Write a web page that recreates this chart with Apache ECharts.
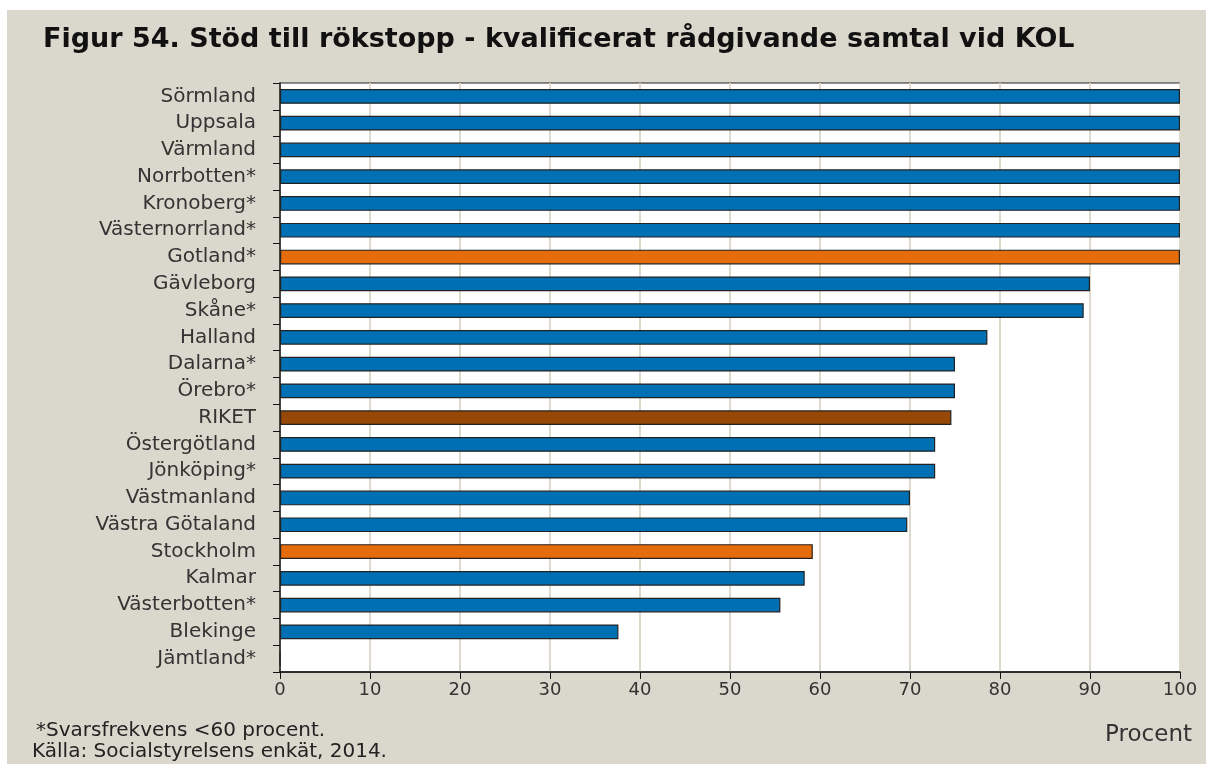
<!DOCTYPE html>
<html lang="sv">
<head>
  <meta charset="utf-8">
  <title>Figur 54</title>
  <script src="https://cdn.jsdelivr.net/npm/echarts@6/dist/echarts.min.js"></script>
  <style>
    body { margin: 0; background: #fff; }
    #bg { position: absolute; left: 7px; top: 10px; width: 1199px; height: 754px; background: #DAD8CC; }
    #container { position: absolute; left: 0; top: 0; width: 1206px; height: 764px; }
  </style>
</head>
<body>
<div id="bg"></div>
<div id="container"></div>
<script>
  // regioner uppifrån och ned
  var regions = ['Sörmland', 'Uppsala', 'Värmland', 'Norrbotten*', 'Kronoberg*', 'Västernorrland*',
    'Gotland*', 'Gävleborg', 'Skåne*', 'Halland', 'Dalarna*', 'Örebro*', 'RIKET', 'Östergötland',
    'Jönköping*', 'Västmanland', 'Västra Götaland', 'Stockholm', 'Kalmar', 'Västerbotten*',
    'Blekinge', 'Jämtland*'];
  var percent = [100, 100, 100, 100, 100, 100, 100, 90, 89.3, 78.6, 75, 75, 74.6, 72.8,
    72.8, 70, 69.7, 59.2, 58.3, 55.6, 37.6, 0];
  var xTicks = [0, 10, 20, 30, 40, 50, 60, 70, 80, 90, 100];
  var orangeRegions = ['Gotland*', 'Stockholm'];
  var nationalRow = 'RIKET';

  var blue = '#0070B4', orange = '#E46C0A', brown = '#974806';
  var font = 'DejaVu Sans';

  var barData = percent.map(function (v, i) {
    var c = blue;
    if (orangeRegions.indexOf(regions[i]) >= 0) c = orange;
    if (regions[i] === nationalRow) c = brown;
    return { value: v, itemStyle: { color: c } };
  });

  var myChart = echarts.init(document.getElementById('container'));
  var option = {
    backgroundColor: 'transparent',
    animation: false,
    title: {
      text: 'Figur 54. Stöd till rökstopp - kvalificerat rådgivande samtal vid KOL',
      left: 38, top: 21,
      textStyle: { fontFamily: font, fontWeight: 'bold', fontSize: 27, color: '#111' }
    },
    grid: {
      left: 280, right: 26, top: 83, bottom: 92,
      show: true, backgroundColor: '#fff', borderColor: '#222', borderWidth: 1
    },
    xAxis: {
      type: 'value', min: 0, max: 100, interval: 10,
      axisLine: { show: true, lineStyle: { color: '#111', width: 1.5 } },
      axisTick: { show: true, length: 7, lineStyle: { color: '#111' } },
      axisLabel: {
        fontFamily: font, fontSize: 18, color: '#333', margin: 9,
        formatter: function (v) { return xTicks.indexOf(v) >= 0 ? String(v) : ''; }
      },
      splitLine: { show: true, lineStyle: { color: '#DDD9CC', width: 2 } }
    },
    yAxis: {
      type: 'category', data: regions, inverse: true,
      axisLine: { show: true, lineStyle: { color: '#111', width: 1.5 } },
      axisTick: { show: true, interval: 0, length: 7, inside: false, lineStyle: { color: '#111' } },
      axisLabel: { interval: 0, fontFamily: font, fontSize: 20, color: '#333', margin: 24 }
    },
    series: [{
      type: 'bar',
      data: barData,
      barCategoryGap: '45%',
      itemStyle: { borderColor: '#222', borderWidth: 1.2 }
    }],
    graphic: [
      { type: 'text', left: 36, top: 721,
        style: { text: '*Svarsfrekvens <60 procent.', font: '20px ' + font, fill: '#222' } },
      { type: 'text', left: 32, top: 742,
        style: { text: 'Källa: Socialstyrelsens enkät, 2014.', font: '20px ' + font, fill: '#222' } },
      { type: 'text', right: 14, top: 724,
        style: { text: 'Procent', font: '23px ' + font, fill: '#333' } }
    ]
  };
  myChart.setOption(option);
</script>
</body>
</html>
